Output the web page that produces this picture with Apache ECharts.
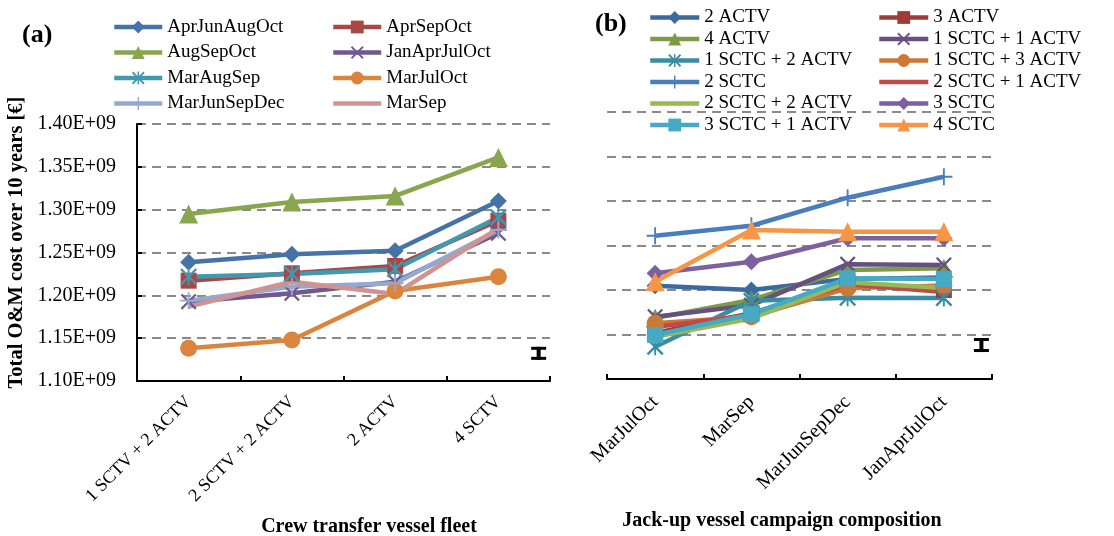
<!DOCTYPE html>
<html>
<head>
<meta charset="utf-8">
<script src="https://cdn.jsdelivr.net/npm/echarts@6/dist/echarts.min.js"></script>
<style>
html,body{margin:0;padding:0;background:#fff;}
#c{width:1114px;height:536px;}
</style>
</head>
<body>
<div id="c"></div>
<script>
// ---------- DATA ----------
const leftCategories = ['1 SCTV + 2 ACTV', '2 SCTV + 2 ACTV', '2 ACTV', '4 SCTV'];
const rightCategories = ['MarJulOct', 'MarSep', 'MarJunSepDec', 'JanAprJulOct'];

// values in units of 1E+09 €
const AprJunAugOct = [1.2386, 1.2479, 1.2521, 1.3101];
const AprSepOct    = [1.2171, 1.2257, 1.2343, 1.2871];
const AugSepOct    = [1.2950, 1.3090, 1.3160, 1.3610];
const JanAprJulOct = [1.1926, 1.2024, 1.2159, 1.2724];
const MarAugSep    = [1.2218, 1.2249, 1.2304, 1.2911];
const MarJulOct    = [1.1382, 1.1479, 1.2051, 1.2218];
const MarJunSepDec = [1.1938, 1.2101, 1.2141, 1.2763];
const MarSep       = [1.1868, 1.2159, 1.2016, 1.2783];

const ACTV2       = [1.2048, 1.2000, 1.2125, 1.2140];
const ACTV3       = [1.1517, 1.1738, 1.2079, 1.2000];
const ACTV4       = [1.1685, 1.1888, 1.2225, 1.2244];
const SCTC1ACTV1  = [1.1700, 1.1830, 1.2290, 1.2281];
const SCTC1ACTV2  = [1.1363, 1.1880, 1.1914, 1.1910];
const SCTC1ACTV3  = [1.1626, 1.1700, 1.2019, 1.2050];
const SCTC2       = [1.2610, 1.2722, 1.3037, 1.3273];
const SCTC2ACTV1  = [1.1584, 1.1720, 1.2064, 1.1978];
const SCTC2ACTV2  = [1.1475, 1.1680, 1.2087, 1.2022];
const SCTC3       = [1.2188, 1.2318, 1.2581, 1.2581];
const SCTC3ACTV1  = [1.1494, 1.1727, 1.2131, 1.2124];
const SCTC4       = [1.2093, 1.2674, 1.2655, 1.2655];

const yTicksMin = 1.10, yTicksMax = 1.40, yTicksStep = 0.05; // E+09
// uncertainty indicator: [category index, centre value, half range] (E+09)
const errLeft  = [3, 1.1323, 0.0076];
const errRight = [3, 1.1382, 0.0079];

// ---------- STYLE ----------
const FONT = "'Liberation Serif', 'Times New Roman', serif";
const SCALE = 1e9;
const sym = {
  diamond: 'diamond',
  square: 'rect',
  triangle: 'triangle',
  circle: 'circle',
  x: 'path://M0,1L1,0L5,4L9,0L10,1L6,5L10,9L9,10L5,6L1,10L0,9L4,5Z',
  star: 'path://M0,1L1,0L5,4L9,0L10,1L6,5L10,9L9,10L5,6L1,10L0,9L4,5Z M4.45,0L5.55,0L5.55,10L4.45,10Z',
  plus: 'path://M4.45,0L5.55,0L5.55,4.45L10,4.45L10,5.55L5.55,5.55L5.55,10L4.45,10L4.45,5.55L0,5.55L0,4.45L4.45,4.45Z',
  none: 'none'
};
const symSize = {diamond: 17, square: 16, triangle: 19, circle: 17, x: 16, star: 17, plus: 17, none: 0};
const LINE_ICON = 'path://M0,0L48,0L48,4.5L0,4.5Z';

const leftSeriesDef = [
  ['AprJunAugOct', AprJunAugOct, '#4572A7', 'diamond'],
  ['AprSepOct', AprSepOct, '#AA4643', 'square'],
  ['AugSepOct', AugSepOct, '#89A54E', 'triangle'],
  ['JanAprJulOct', JanAprJulOct, '#71588F', 'x'],
  ['MarAugSep', MarAugSep, '#4198AF', 'star'],
  ['MarJulOct', MarJulOct, '#DB843D', 'circle'],
  ['MarJunSepDec', MarJunSepDec, '#93A9CF', 'plus'],
  ['MarSep', MarSep, '#D19392', 'none']
];
const rightSeriesDef = [
  ['2 ACTV', ACTV2, '#3B6AA0', 'diamond'],
  ['3 ACTV', ACTV3, '#9E3C3A', 'square'],
  ['4 ACTV', ACTV4, '#7D9A47', 'triangle'],
  ['1 SCTC + 1 ACTV', SCTC1ACTV1, '#66507F', 'x'],
  ['1 SCTC + 2 ACTV', SCTC1ACTV2, '#3A8CA2', 'star'],
  ['1 SCTC + 3 ACTV', SCTC1ACTV3, '#CC7836', 'circle'],
  ['2 SCTC', SCTC2, '#4A7EBB', 'plus'],
  ['2 SCTC + 1 ACTV', SCTC2ACTV1, '#BE4B48', 'none'],
  ['2 SCTC + 2 ACTV', SCTC2ACTV2, '#98B954', 'none'],
  ['3 SCTC', SCTC3, '#7D60A0', 'diamond'],
  ['3 SCTC + 1 ACTV', SCTC3ACTV1, '#46AAC5', 'square'],
  ['4 SCTC', SCTC4, '#F79646', 'triangle']
];

function mkSeries(def, idx) {
  return def.map(([name, vals, color, s]) => ({
    name: name,
    type: 'line',
    xAxisIndex: idx, yAxisIndex: idx,
    data: vals.map(v => v * SCALE),
    color: color,
    symbol: sym[s],
    symbolSize: symSize[s],
    showSymbol: s !== 'none',
    lineStyle: {width: 4.5, color: color},
    itemStyle: {color: color, borderWidth: 0},
    emphasis: {disabled: true},
    animation: false,
    clip: false,
    z: 3
  }));
}

function errSeries(err, idx) {
  return {
    type: 'custom', xAxisIndex: idx, yAxisIndex: idx,
    data: [[err[0], err[1] * SCALE, err[2] * SCALE]],
    clip: false, silent: true, animation: false, z: 4,
    renderItem: function (params, api) {
      const c = api.coord([api.value(0), api.value(1)]);
      const t = api.coord([api.value(0), api.value(1) + api.value(2)])[1];
      const b = api.coord([api.value(0), api.value(1) - api.value(2)])[1];
      const w = api.size([1, 0])[0];
      const x = c[0] + w * 0.39;
      const st = {fill: '#000'};
      return {type: 'group', children: [
        {type: 'rect', shape: {x: x - 7.5, y: t, width: 15, height: 3}, style: st},
        {type: 'rect', shape: {x: x - 7.5, y: b - 3, width: 15, height: 3}, style: st},
        {type: 'rect', shape: {x: x - 2, y: t, width: 4, height: b - t}, style: st}
      ]};
    }
  };
}

const gridLine = {show: true, lineStyle: {color: '#8a8a8a', width: 2, type: [9, 6]}};
const axisBlack = {show: true, lineStyle: {color: '#000', width: 2}};

function legend(defs, left, top, lineH, gap, w) {
  return {
    data: defs.map(d => d[3] === 'none' ? {name: d[0], icon: LINE_ICON} : {name: d[0]}),
    orient: 'vertical', left: left, top: top, padding: 0,
    itemWidth: w, itemHeight: 16, itemGap: gap,
    lineStyle: {width: 4.5},
    textStyle: {fontFamily: FONT, fontSize: 19, color: '#000', lineHeight: lineH},
    selectedMode: false
  };
}

const option = {
  backgroundColor: '#fff',
  animation: false,
  grid: [
    {left: 137, top: 124, width: 413, height: 257},
    {left: 607, top: 112, width: 385, height: 267}
  ],
  xAxis: [
    {
      type: 'category', gridIndex: 0, data: leftCategories, boundaryGap: true,
      axisLine: axisBlack,
      axisTick: {show: true, inside: true, length: 5, lineStyle: {color: '#000', width: 2}},
      axisLabel: {rotate: 45, margin: 18, fontFamily: FONT, fontSize: 18, color: '#000', interval: 0},
      splitLine: {show: false}
    },
    {
      type: 'category', gridIndex: 1, data: rightCategories, boundaryGap: true,
      axisLine: axisBlack,
      axisTick: {show: true, inside: true, length: 5, lineStyle: {color: '#000', width: 2}},
      axisLabel: {rotate: 45, margin: 20, fontFamily: FONT, fontSize: 20, color: '#000', interval: 0},
      splitLine: {show: false}
    }
  ],
  yAxis: [
    {
      type: 'value', gridIndex: 0,
      min: yTicksMin * SCALE, max: yTicksMax * SCALE, interval: yTicksStep * SCALE,
      axisLine: axisBlack,
      axisTick: {show: true, inside: true, length: 5, lineStyle: {color: '#000', width: 2}},
      axisLabel: {margin: 21, fontFamily: FONT, fontSize: 20, color: '#000',
        formatter: v => (v / SCALE).toFixed(2) + 'E+09'},
      splitLine: gridLine
    },
    {
      type: 'value', gridIndex: 1,
      min: yTicksMin * SCALE, max: yTicksMax * SCALE, interval: yTicksStep * SCALE,
      axisLine: {show: false}, axisTick: {show: false}, axisLabel: {show: false},
      splitLine: gridLine
    }
  ],
  legend: [
    legend(leftSeriesDef.filter((d, i) => i % 2 === 0), 112, 17, 20, 5.5, 48),
    legend(leftSeriesDef.filter((d, i) => i % 2 === 1), 331, 17, 20, 5.5, 48),
    legend(rightSeriesDef.filter((d, i) => i % 2 === 0), 648, 8, 18, 2.5, 49),
    legend(rightSeriesDef.filter((d, i) => i % 2 === 1), 877, 8, 18, 2.5, 49)
  ],
  graphic: [
    {type: 'text', left: 22, top: 22, style: {text: '(a)', font: 'bold 26px ' + FONT, fill: '#000'}},
    {type: 'text', left: 595, top: 11, style: {text: '(b)', font: 'bold 26px ' + FONT, fill: '#000'}},
    {type: 'text', x: 17, y: 242.5, rotation: Math.PI / 2,
      style: {text: 'Total O&M cost over 10 years [€]', font: 'bold 20.5px ' + FONT, fill: '#000', align: 'center', verticalAlign: 'middle'}},
    {type: 'text', x: 369, y: 527, style: {text: 'Crew transfer vessel fleet', font: 'bold 20px ' + FONT, fill: '#000', align: 'center', verticalAlign: 'middle'}},
    {type: 'text', x: 782, y: 521, style: {text: 'Jack-up vessel campaign composition', font: 'bold 20px ' + FONT, fill: '#000', align: 'center', verticalAlign: 'middle'}}
  ],
  series: [].concat(mkSeries(leftSeriesDef, 0), mkSeries(rightSeriesDef, 1),
    [errSeries(errLeft, 0), errSeries(errRight, 1)])
};

const chart = echarts.init(document.getElementById('c'), null, {renderer: 'canvas'});
chart.setOption(option);
</script>
</body>
</html>
